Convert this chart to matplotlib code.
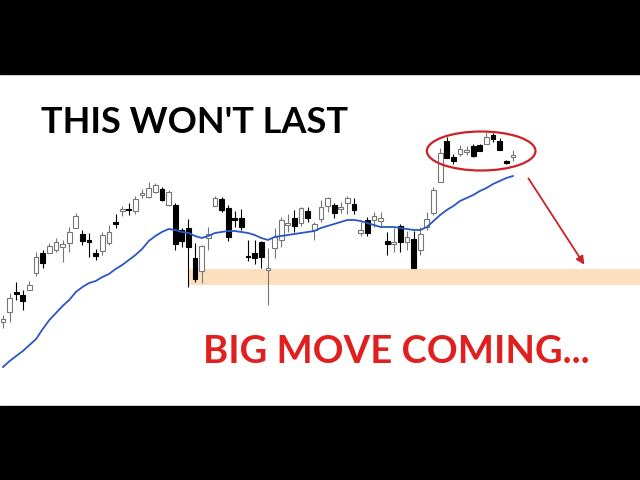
import matplotlib
matplotlib.use('Agg')
import matplotlib.pyplot as plt
from matplotlib.patches import Ellipse, Rectangle

# velas (open, high, low, close)
opens = [158, 168, 188, 185, 190, 207, 227, 227, 230, 233, 237, 252, 246, 240, 227, 229, 237, 258, 269, 271,
         269, 285, 283, 288, 291, 275, 275, 250, 252, 222, 209, 242, 274, 281, 272, 262, 262, 224, 227, 238,
         210, 232, 240, 255, 262, 257, 269, 250, 261, 274, 275, 271, 277, 276, 247, 260, 260, 259, 239, 236,
         254, 238, 241, 230, 253, 267, 298, 339, 323, 326, 328, 334, 335, 336, 345, 339, 319, 323]
highs = [165, 187, 198, 190, 199, 228, 230, 237, 242, 240, 253, 267, 250, 247, 231, 248, 255, 266, 274, 277,
         284, 291, 298, 297, 293, 290, 277, 252, 261, 237, 235, 253, 284, 283, 275, 269, 271, 240, 240, 239,
         232, 252, 263, 266, 270, 273, 273, 258, 280, 283, 277, 278, 284, 282, 258, 263, 268, 268, 248, 252,
         256, 249, 249, 253, 268, 293, 332, 343, 326, 335, 334, 336, 336, 348, 347, 342, 320, 330]
lows = [152, 158, 180, 170, 190, 204, 212, 227, 228, 218, 228, 252, 235, 223, 220, 225, 235, 252, 264, 265,
        266, 282, 282, 287, 279, 274, 230, 233, 193, 198, 197, 230, 274, 268, 239, 253, 250, 219, 216, 212,
        175, 222, 233, 248, 248, 254, 258, 240, 258, 268, 262, 267, 266, 266, 244, 244, 253, 253, 225, 228,
        228, 230, 212, 225, 250, 265, 298, 322, 316, 324, 325, 323, 329, 336, 338, 330, 316, 319]
closes = [161, 182, 186, 179, 195, 223, 217, 234, 238, 236, 248, 264, 239, 238, 224, 245, 248, 256, 271, 270,
          281, 287, 292, 295, 280, 288, 236, 239, 233, 201, 234, 246, 282, 270, 243, 260, 253, 223, 222, 223,
          212, 243, 260, 257, 254, 272, 262, 256, 273, 282, 267, 273, 282, 270, 250, 247, 264, 262, 236, 238,
          238, 243, 212, 246, 261, 290, 327, 322, 319, 331, 330, 324, 329, 343, 341, 330, 317, 325]

# média móvel (linha azul)
media = [113, 119, 124, 129, 135, 141, 151, 160, 167, 174, 180, 188, 193, 197, 199, 203, 206, 211, 215, 220,
         225, 231, 239, 244, 248, 251, 250, 248, 247, 244, 242, 244, 247, 248, 249, 249, 248, 247, 245, 242,
         240, 243, 244, 245, 246, 247, 248, 249, 252, 254, 256, 258, 260, 260, 259, 257, 255, 253, 253, 253,
         252, 251, 250, 250, 253, 259, 265, 270, 274, 279, 282, 285, 289, 292, 296, 299, 302, 304]

# suporte (faixa laranja)
suporte_inicio = 27.9
suporte_baixo = 195
suporte_alto = 211

titulo = "THIS WON'T LAST"
subtitulo = "BIG MOVE COMING..."

fig = plt.figure(figsize=(6.4, 4.8), dpi=100)
ax = fig.add_axes([0, 0, 1, 1])
ax.set_xlim(-0.453, 96.18)
ax.set_ylim(0, 480)
ax.axis('off')

# barras pretas em cima e embaixo
ax.axhspan(406, 480, color='black', zorder=5)
ax.axhspan(0, 74, color='black', zorder=5)

# faixa de suporte
ax.add_patch(Rectangle((suporte_inicio, suporte_baixo), 200, suporte_alto - suporte_baixo,
                       facecolor='#fce0bd', edgecolor='none', zorder=1))

# velas
for i in range(len(opens)):
    o, h, l, c = opens[i], highs[i], lows[i], closes[i]
    if c >= o:
        ax.vlines(i, l, h, color='#777777', linewidth=0.8, zorder=2)
        ax.bar(i, max(c - o, 1.2), bottom=o, width=0.72, facecolor='white',
               edgecolor='#777777', linewidth=0.8, zorder=3)
    else:
        ax.vlines(i, l, h, color='black', linewidth=0.8, zorder=2)
        ax.bar(i, max(o - c, 1.2), bottom=c, width=0.72, facecolor='black',
               edgecolor='black', linewidth=0.8, zorder=3)

ax.plot(range(len(media)), media, color='#2a56c6', linewidth=1.3, zorder=4)

# elipse e seta
ax.add_patch(Ellipse((72.2, 329), 16.4, 39, fill=False, edgecolor='#cc2229', linewidth=1.6, zorder=4))
ax.annotate('', xy=(88.0, 213), xytext=(79.1, 304),
            arrowprops=dict(arrowstyle='-|>', color='#cc2229', linewidth=1.3, mutation_scale=12), zorder=4)

ax.text(5.8, 347, titulo, fontsize=26, fontweight='bold', family='Lato', color='black',
        ha='left', va='baseline', zorder=6)
ax.text(30.2, 117, subtitulo, fontsize=27.5, fontweight='bold', family='Lato', color='#e0201f',
        ha='left', va='baseline', zorder=6)

plt.savefig('out.png', dpi=100)
